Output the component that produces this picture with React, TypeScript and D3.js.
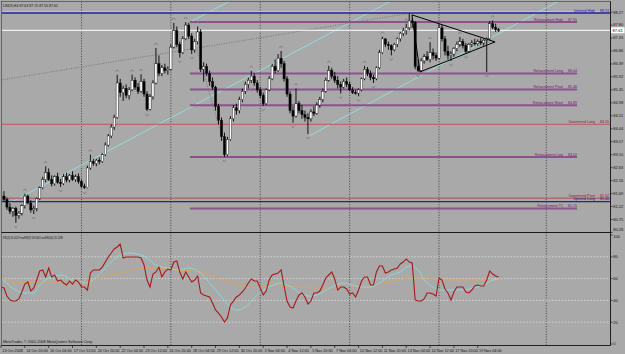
import React, { useEffect, useRef } from "react";
import * as d3 from "d3";

// header / footer texts
const chartTitle = "USDX,H4  87.63 87.70 87.55 87.61";
const rsiTitle = "RSI(9) 61.0529   maRSI(9) 58.5602   maRSI(40) 55.1189";
const copyright = "MetaTrader, \u00a9 2001-2008 MetaQuotes Software Corp.";

// H4 bars, 13 Oct 2008 12:00 onwards
const opens = [
  81.45, 81.60, 81.48, 81.20, 81.05, 81.15, 80.90, 80.98, 81.25, 81.60,
  81.35, 81.10, 81.15, 81.50, 81.90, 82.20, 82.45, 82.20, 82.05, 82.30,
  82.10, 82.05, 82.30, 82.18, 82.35, 82.20, 82.30, 82.12, 81.95, 81.90,
  82.62, 82.85, 82.78, 82.90, 82.85, 83.10, 83.45, 83.78, 84.10, 84.45,
  85.70, 85.35, 85.50, 85.25, 85.45, 85.80, 85.55, 85.40, 85.75, 85.30,
  84.75, 85.20, 85.70, 86.40, 86.05, 86.25, 86.15, 86.20, 87.00, 87.60,
  87.10, 86.80, 87.30, 87.80, 87.40, 86.90, 87.20, 87.55, 86.20, 86.30,
  86.05, 85.75, 85.55, 84.85, 84.35, 83.75, 83.10, 83.65, 84.40, 84.80,
  84.70, 85.10, 85.40, 85.65, 85.80, 85.95, 85.70, 85.45, 85.25, 84.95,
  85.45, 85.85, 86.30, 86.15, 86.60, 86.40, 85.85, 85.30, 84.70, 84.50,
  84.95, 84.70, 84.55, 84.45, 84.40, 84.65, 84.60, 84.90, 85.10, 85.40,
  85.80, 86.15, 85.95, 85.80, 85.65, 85.55, 85.75, 85.65, 85.45, 85.35,
  85.33, 85.45, 85.85, 86.20, 86.05, 85.90, 85.85, 86.25, 86.80, 87.30,
  87.10, 87.05, 86.90, 87.10, 87.30, 87.50, 87.60, 87.70, 87.95, 87.90,
  86.30, 86.15, 86.50, 86.65, 86.55, 86.80, 86.70, 86.60, 87.70, 87.30,
  86.85, 86.70, 86.75, 86.95, 87.10, 87.20, 87.05, 86.85, 87.10, 87.15,
  87.12, 87.20, 87.15, 87.25, 87.30, 87.85, 87.72, 87.63,
];
const highs = [
  81.78, 81.78, 81.55, 81.35, 81.20, 81.22, 81.05, 81.30, 81.68, 81.66,
  81.45, 81.25, 81.55, 81.95, 82.30, 82.68, 82.60, 82.35, 82.35, 82.45,
  82.22, 82.40, 82.45, 82.40, 82.50, 82.38, 82.42, 82.20, 82.05, 82.70,
  83.10, 82.95, 82.95, 83.00, 83.15, 83.55, 83.85, 84.20, 84.55, 86.00,
  85.85, 85.60, 85.65, 85.55, 86.00, 85.90, 85.70, 86.02, 85.85, 85.40,
  85.30, 85.80, 86.97, 86.70, 86.35, 86.40, 86.30, 87.10, 87.88, 87.75,
  87.20, 87.40, 87.91, 87.88, 87.50, 87.30, 87.75, 87.65, 86.45, 86.40,
  86.15, 85.90, 85.60, 84.95, 84.45, 83.90, 83.75, 84.50, 84.90, 84.95,
  85.20, 85.50, 85.75, 85.90, 86.14, 86.05, 85.80, 85.55, 85.35, 85.50,
  85.95, 86.40, 86.55, 86.75, 86.86, 86.50, 85.95, 85.40, 84.85, 85.50,
  85.05, 84.90, 84.70, 84.60, 84.75, 84.85, 85.00, 85.20, 85.50, 85.90,
  86.32, 86.25, 86.10, 85.95, 85.75, 85.85, 85.90, 85.75, 85.55, 85.45,
  85.50, 85.90, 86.32, 86.28, 86.15, 86.00, 86.30, 86.90, 87.38, 87.32,
  87.20, 87.10, 87.15, 87.35, 87.55, 87.70, 87.85, 88.22, 88.05, 87.95,
  86.55, 86.60, 86.75, 86.85, 87.18, 86.95, 86.80, 87.85, 87.80, 87.40,
  87.05, 86.85, 87.00, 87.20, 87.37, 87.30, 87.15, 87.15, 87.25, 87.30,
  87.28, 87.32, 87.30, 87.35, 87.95, 87.97, 87.85, 87.70,
];
const lows = [
  81.35, 81.40, 81.10, 80.95, 80.85, 80.63, 80.78, 80.90, 81.15, 81.30,
  81.00, 80.95, 81.05, 81.45, 81.85, 82.10, 82.15, 81.95, 81.98, 82.05,
  81.93, 82.00, 82.10, 82.10, 82.15, 82.12, 82.05, 81.90, 81.86, 81.88,
  82.55, 82.70, 82.68, 82.75, 82.80, 83.05, 83.40, 83.70, 84.00, 84.40,
  85.20, 85.05, 85.15, 85.10, 85.40, 85.45, 85.30, 85.35, 85.20, 84.68,
  84.70, 85.10, 85.65, 85.95, 85.95, 86.05, 86.00, 86.15, 86.95, 87.00,
  86.62, 86.75, 87.25, 87.30, 86.75, 86.80, 87.10, 86.10, 85.75, 85.95,
  85.60, 85.45, 84.70, 84.20, 83.60, 83.02, 83.05, 83.60, 84.30, 84.55,
  84.60, 85.00, 85.30, 85.50, 85.70, 85.60, 85.35, 85.15, 84.87, 84.90,
  85.40, 85.80, 86.05, 86.10, 86.25, 85.75, 85.20, 84.60, 84.26, 84.45,
  84.60, 84.40, 84.30, 83.85, 84.30, 84.50, 84.55, 84.80, 85.00, 85.35,
  85.75, 85.85, 85.70, 85.50, 85.32, 85.50, 85.55, 85.40, 85.30, 85.28,
  85.22, 85.40, 85.80, 85.95, 85.80, 85.70, 85.80, 86.20, 86.75, 87.00,
  86.90, 86.70, 86.85, 87.00, 87.20, 87.40, 87.45, 87.60, 87.70, 86.20,
  86.10, 86.10, 86.40, 86.50, 86.45, 86.55, 86.50, 86.55, 87.20, 86.70,
  86.55, 86.50, 86.65, 86.85, 87.00, 86.95, 86.78, 86.80, 87.00, 87.05,
  87.05, 87.08, 87.05, 86.10, 87.25, 87.65, 87.55, 87.55,
];
const closes = [
  81.60, 81.48, 81.20, 81.05, 81.15, 80.90, 80.98, 81.25, 81.60, 81.35,
  81.10, 81.15, 81.50, 81.90, 82.20, 82.45, 82.20, 82.05, 82.30, 82.10,
  82.05, 82.30, 82.18, 82.35, 82.20, 82.30, 82.12, 81.95, 81.90, 82.62,
  82.85, 82.78, 82.90, 82.85, 83.10, 83.45, 83.78, 84.10, 84.45, 85.70,
  85.35, 85.50, 85.25, 85.45, 85.80, 85.55, 85.40, 85.75, 85.30, 84.75,
  85.20, 85.70, 86.40, 86.05, 86.25, 86.15, 86.20, 87.00, 87.60, 87.10,
  86.80, 87.30, 87.80, 87.40, 86.90, 87.20, 87.55, 86.20, 86.30, 86.05,
  85.75, 85.55, 84.85, 84.35, 83.75, 83.10, 83.65, 84.40, 84.80, 84.70,
  85.10, 85.40, 85.65, 85.80, 85.95, 85.70, 85.45, 85.25, 84.95, 85.45,
  85.85, 86.30, 86.15, 86.60, 86.40, 85.85, 85.30, 84.70, 84.50, 84.95,
  84.70, 84.55, 84.45, 84.40, 84.65, 84.60, 84.90, 85.10, 85.40, 85.80,
  86.15, 85.95, 85.80, 85.65, 85.55, 85.75, 85.65, 85.45, 85.35, 85.33,
  85.45, 85.85, 86.20, 86.05, 85.90, 85.85, 86.25, 86.80, 87.30, 87.10,
  87.05, 86.90, 87.10, 87.30, 87.50, 87.60, 87.70, 87.95, 87.90, 86.30,
  86.15, 86.50, 86.65, 86.55, 86.80, 86.70, 86.60, 87.70, 87.30, 86.85,
  86.70, 86.75, 86.95, 87.10, 87.20, 87.05, 86.85, 87.10, 87.15, 87.12,
  87.20, 87.15, 87.25, 87.30, 87.85, 87.72, 87.63, 87.61,
];

// fractal marks (bar indexes)
const fractalUp = [0, 8, 15, 30, 39, 44, 47, 52, 58, 62, 66, 84, 94, 99, 110, 122, 128, 136, 144, 154, 165];
const fractalDown = [5, 11, 20, 28, 49, 60, 64, 75, 88, 98, 103, 114, 120, 125, 131, 140, 151, 156, 163];

// horizontal levels
const levelNames = [
  "Uptrend High", "Retracement High", "Retracement Long", "Retracement Pivot", "Retracement Short",
  "Downtrend Long", "Retracement Low", "Downtrend Pivot", "Uptrend Long", "Retracement T1",
];
const levelValues = [88.24, 87.91, 86.04, 85.46, 84.89, 84.2, 83.02, 81.52, 81.4, 81.15];

// triangle (bar, price)
const triangleBars = [137.9, 140.6, 165.8];
const trianglePrices = [88.17, 86.1, 87.19];

// trend lines: [bar1, price1, bar2, price2]
const channelLines = [
  [3.0, 81.35, 131.5, 88.71],
  [64.1, 87.95, 77.5, 88.71],
  [103.4, 83.78, 187.9, 88.71],
];
const dottedLines = [
  [0.3, 85.81, 137.9, 88.24],
  [65.8, 86.9, 76.2, 82.98],
];

// RSI(9)
const rsiValues = [
  52.3, 51.4, 44.0, 40.4, 39.4, 39.4, 41.3, 47.7, 55.0, 56.9,
  48.6, 51.4, 58.7, 67.0, 67.9, 61.5, 69.7, 61.5, 63.3, 57.8,
  58.7, 56.0, 54.1, 57.8, 55.0, 58.7, 56.9, 52.3, 52.3, 49.5,
  65.1, 67.9, 67.9, 67.9, 70.6, 75.2, 79.8, 83.5, 87.2, 89.0,
  91.7, 78.9, 79.8, 79.8, 79.8, 79.8, 79.8, 78.9, 72.5, 58.7,
  52.3, 64.2, 66.1, 70.6, 61.5, 66.1, 68.8, 67.9, 75.2, 76.1,
  66.1, 59.6, 66.1, 61.5, 56.9, 58.7, 62.4, 46.8, 45.0, 44.0,
  43.1, 37.6, 31.2, 28.4, 24.8, 20.2, 23.9, 35.8, 39.4, 43.1,
  45.0, 47.7, 51.4, 56.0, 59.6, 57.8, 57.8, 51.4, 45.0, 48.6,
  58.7, 63.3, 64.2, 65.1, 67.9, 53.2, 39.4, 33.9, 33.0, 39.4,
  45.0, 46.8, 43.1, 36.7, 39.4, 46.8, 46.8, 48.6, 54.1, 60.6,
  63.3, 66.1, 59.6, 49.5, 52.3, 52.3, 50.5, 45.9, 46.8, 43.1,
  49.5, 57.8, 61.5, 61.5, 54.1, 54.1, 66.1, 71.6, 71.6, 65.1,
  66.1, 67.9, 68.8, 69.7, 73.4, 75.2, 78.0, 75.2, 74.3, 40.4,
  39.4, 39.4, 41.3, 46.8, 46.8, 45.9, 44.0, 60.6, 58.7, 50.5,
  46.8, 40.4, 47.7, 52.3, 52.3, 52.3, 47.7, 46.8, 49.5, 53.2,
  54.1, 53.2, 53.2, 58.7, 67.0, 64.2, 62.4, 61.5,
];
// moving averages of RSI, read at sample bars
const ma9Bars = [0, 8, 11, 13, 16, 20, 24, 27, 29, 32, 36, 39, 43, 47, 49, 52, 56, 59, 63, 67, 70, 74, 77, 79, 82, 85, 88, 90, 94, 96, 99, 101, 104, 106, 108, 111, 115, 118, 121, 124, 127, 131, 134, 137, 140, 142, 145, 147, 152, 155, 158, 162, 165, 167];
const ma9Values = [60.6, 46.8, 46.8, 54.1, 60.6, 63.3, 58.7, 56.9, 56.0, 61.5, 72.5, 79.8, 83.5, 81.7, 78.9, 72.5, 69.7, 67.9, 69.7, 65.1, 56.0, 43.1, 33.9, 31.2, 33.9, 42.2, 49.5, 52.3, 56.0, 54.1, 49.5, 45.0, 44.0, 45.0, 47.7, 52.3, 56.0, 54.1, 52.3, 52.3, 56.0, 63.3, 66.1, 71.6, 67.9, 58.7, 52.3, 49.5, 49.5, 49.5, 51.4, 54.1, 58.7, 59.5];
const ma40Bars = [0, 6, 13, 22, 31, 37, 42, 48, 53, 59, 67, 72, 78, 83, 87, 93, 99, 106, 111, 117, 123, 128, 134, 137, 143, 148, 154, 160, 167];
const ma40Values = [60.6, 56.0, 56.9, 56.9, 58.7, 63.3, 66.1, 69.7, 69.7, 67.9, 66.1, 60.6, 56.0, 52.3, 52.3, 54.1, 52.3, 51.4, 51.4, 54.1, 52.3, 56.0, 58.7, 60.6, 60.6, 58.7, 58.7, 58.7, 58.7];

// axes
const priceTicks = [88.27, 87.8, 87.33, 86.86, 86.39, 85.92, 85.45, 84.98, 84.51, 84.04, 83.57, 83.1, 82.63, 82.16, 81.69, 81.22, 80.75, 80.28];
const rsiTicks = [100, 80, 60, 40, 20, 0];
const rsiLevels = [80, 60, 40, 20];
const separatorBars = [27, 57, 87, 117, 147, 183];
const timeLabels = [
  "13 Oct 2008", "14 Oct 20:00", "16 Oct 04:00", "17 Oct 12:00", "20 Oct 20:00", "22 Oct 04:00",
  "23 Oct 12:00", "24 Oct 20:00", "28 Oct 04:00", "29 Oct 12:00", "30 Oct 20:00", "3 Nov 04:00",
  "4 Nov 12:00", "5 Nov 20:00", "7 Nov 04:00", "10 Nov 12:00", "11 Nov 20:00", "13 Nov 04:00",
  "14 Nov 12:00", "17 Nov 20:00", "19 Nov 04:00",
];

export default function App() {
  const ref = useRef<SVGSVGElement | null>(null);

  useEffect(() => {
    const svg = d3.select(ref.current);
    svg.selectAll("*").remove();

    const left = 1.5, right = 610.5, top = 1.5, sep = 232.5, bottom = 345.5;
    const font = "'Liberation Sans', Arial, sans-serif";

    const x = d3.scaleLinear().domain([0, 183]).range([1, 546.3]);
    const y = d3.scaleLinear().domain([80.37, 88.6]).range([230, 3]);
    const yr = d3.scaleLinear().domain([0, 100]).range([344, 235]);
    const bars = d3.range(closes.length);

    svg.append("rect").attr("width", 625).attr("height", 354).attr("fill", "#a9a9a9");

    const defs = svg.append("defs");
    defs.append("clipPath").attr("id", "mainClip").append("rect")
      .attr("x", left).attr("y", top).attr("width", right - left).attr("height", sep - top);
    defs.append("clipPath").attr("id", "rsiClip").append("rect")
      .attr("x", left).attr("y", sep).attr("width", right - left).attr("height", bottom - sep);

    const main = svg.append("g").attr("clip-path", "url(#mainClip)");
    const rsi = svg.append("g").attr("clip-path", "url(#rsiClip)");

    // week separators
    main.selectAll(".sep").data(separatorBars).enter().append("line")
      .attr("x1", (d) => x(d)).attr("x2", (d) => x(d)).attr("y1", top).attr("y2", sep)
      .attr("stroke", "#2a2a2a").attr("stroke-width", 0.8).attr("stroke-dasharray", "1,1.6");
    rsi.selectAll(".sep").data(separatorBars).enter().append("line")
      .attr("x1", (d) => x(d)).attr("x2", (d) => x(d)).attr("y1", sep).attr("y2", bottom)
      .attr("stroke", "#2a2a2a").attr("stroke-width", 0.8).attr("stroke-dasharray", "1,1.6");

    // trend lines
    main.selectAll(".chan").data(channelLines).enter().append("line")
      .attr("x1", (d) => x(d[0])).attr("y1", (d) => y(d[1]))
      .attr("x2", (d) => x(d[2])).attr("y2", (d) => y(d[3]))
      .attr("stroke", "#8fe3e3").attr("stroke-width", 0.9);
    main.selectAll(".dots").data(dottedLines).enter().append("line")
      .attr("x1", (d) => x(d[0])).attr("y1", (d) => y(d[1]))
      .attr("x2", (d) => x(d[2])).attr("y2", (d) => y(d[3]))
      .attr("stroke", "#6a6a6a").attr("stroke-width", 0.8).attr("stroke-dasharray", "1,1.5");

    // levels
    const styleOf = (name: string) =>
      name.startsWith("Uptrend")
        ? { line: "#23239c", text: "#1414b0", width: 1.4, full: true }
        : name.startsWith("Downtrend")
        ? { line: "#b66a6a", text: "#8a2626", width: 1.4, full: true }
        : { line: "#8a548a", text: "#741474", width: 2, full: false };

    main.append("line")
      .attr("x1", left).attr("x2", right)
      .attr("y1", y(levelValues[0]) - 1.4).attr("y2", y(levelValues[0]) - 1.4)
      .attr("stroke", "#cfcf9c").attr("stroke-width", 0.8);

    levelNames.forEach((name, k) => {
      const st = styleOf(name);
      const ly = y(levelValues[k]);
      const x0 = st.full ? left : x(63.4);
      const x1 = st.full ? right : 577;
      main.append("line").attr("x1", x0).attr("x2", x1).attr("y1", ly).attr("y2", ly)
        .attr("stroke", st.line).attr("stroke-width", st.width);
    });

    // current price line
    const last = closes[closes.length - 1];
    main.append("line").attr("x1", left).attr("x2", right).attr("y1", y(last)).attr("y2", y(last))
      .attr("stroke", "#ffffff").attr("stroke-width", 1);

    // candles
    main.selectAll(".wick").data(bars).enter().append("line")
      .attr("x1", (i) => x(i)).attr("x2", (i) => x(i))
      .attr("y1", (i) => y(highs[i])).attr("y2", (i) => y(lows[i]))
      .attr("stroke", "#000").attr("stroke-width", 0.9);
    main.selectAll(".body").data(bars).enter().append("rect")
      .attr("x", (i) => x(i) - 1.1).attr("width", 2.2)
      .attr("y", (i) => y(Math.max(opens[i], closes[i])))
      .attr("height", (i) => Math.max(0.8, Math.abs(y(opens[i]) - y(closes[i]))))
      .attr("fill", (i) => (closes[i] >= opens[i] ? "#ffffff" : "#000000"))
      .attr("stroke", "#000").attr("stroke-width", 0.4);

    // fractals
    main.selectAll(".fu").data(fractalUp).enter().append("path")
      .attr("d", (i) => `M${x(i) - 1.7},${y(highs[i]) - 3} L${x(i)},${y(highs[i]) - 5} L${x(i) + 1.7},${y(highs[i]) - 3}`)
      .attr("fill", "none").attr("stroke", "#767676").attr("stroke-width", 0.8);
    main.selectAll(".fd").data(fractalDown).enter().append("path")
      .attr("d", (i) => `M${x(i) - 1.7},${y(lows[i]) + 3} L${x(i)},${y(lows[i]) + 5} L${x(i) + 1.7},${y(lows[i]) + 3}`)
      .attr("fill", "none").attr("stroke", "#767676").attr("stroke-width", 0.8);

    // triangle
    const tri = triangleBars.map((b, k) => [x(b), y(trianglePrices[k])] as [number, number]);
    main.append("path").attr("d", d3.line()(tri) + "Z")
      .attr("fill", "none").attr("stroke", "#000").attr("stroke-width", 1);

    // level labels
    levelNames.forEach((name, k) => {
      const st = styleOf(name);
      const ly = y(levelValues[k]) - 1.2;
      const end = st.full ? 609 : 577;
      svg.append("text").attr("x", end - 14).attr("y", ly).attr("text-anchor", "end")
        .attr("font-family", font).attr("font-size", 3.6).attr("fill", st.text).text(name);
      svg.append("text").attr("x", end).attr("y", ly).attr("text-anchor", "end")
        .attr("font-family", font).attr("font-size", 3.6).attr("fill", st.text).text(levelValues[k].toFixed(2));
    });

    // RSI panel
    rsi.selectAll(".lvl").data(rsiLevels).enter().append("line")
      .attr("x1", left).attr("x2", right).attr("y1", (d) => yr(d)).attr("y2", (d) => yr(d))
      .attr("stroke", "#dcdcdc").attr("stroke-width", 0.8).attr("stroke-dasharray", "1.6,1.6");

    const maLine = d3.line<number>().curve(d3.curveMonotoneX);
    rsi.append("path")
      .attr("d", maLine.x((d) => x(ma40Bars[d])).y((d) => yr(ma40Values[d]))(d3.range(ma40Bars.length)))
      .attr("fill", "none").attr("stroke", "#e0a458").attr("stroke-width", 0.9);
    rsi.append("path")
      .attr("d", maLine.x((d) => x(ma9Bars[d])).y((d) => yr(ma9Values[d]))(d3.range(ma9Bars.length)))
      .attr("fill", "none").attr("stroke", "#86dede").attr("stroke-width", 0.9);
    rsi.append("path")
      .attr("d", d3.line<number>().x((i) => x(i)).y((i) => yr(rsiValues[i]))(bars))
      .attr("fill", "none").attr("stroke", "#a81818").attr("stroke-width", 1.1);

    // frame
    svg.append("rect").attr("x", left).attr("y", top).attr("width", right - left).attr("height", bottom - top)
      .attr("fill", "none").attr("stroke", "#555").attr("stroke-width", 0.8);
    svg.append("line").attr("x1", left).attr("x2", right).attr("y1", sep).attr("y2", sep)
      .attr("stroke", "#1a1a1a").attr("stroke-width", 1.2);
    svg.append("line").attr("x1", right).attr("x2", right).attr("y1", top).attr("y2", bottom)
      .attr("stroke", "#1a1a1a").attr("stroke-width", 0.9);
    svg.append("line").attr("x1", left).attr("x2", right).attr("y1", bottom).attr("y2", bottom)
      .attr("stroke", "#1a1a1a").attr("stroke-width", 0.9);

    // price axis
    priceTicks.forEach((t) => {
      svg.append("line").attr("x1", right).attr("x2", right + 2).attr("y1", y(t)).attr("y2", y(t))
        .attr("stroke", "#1a1a1a").attr("stroke-width", 0.7);
      svg.append("text").attr("x", 613.3).attr("y", Math.min(y(t) + 1.4, 231))
        .attr("font-family", font).attr("font-size", 4).attr("fill", "#111").text(t.toFixed(2));
    });
    svg.append("rect").attr("x", right + 0.5).attr("y", y(last) - 3).attr("width", 13.5).attr("height", 6)
      .attr("fill", "#ffffff");
    svg.append("text").attr("x", 612.6).attr("y", y(last) + 1.5)
      .attr("font-family", font).attr("font-size", 4).attr("fill", "#000").text(last.toFixed(2));

    // rsi axis
    rsiTicks.forEach((t) => {
      svg.append("line").attr("x1", right).attr("x2", right + 2).attr("y1", yr(t)).attr("y2", yr(t))
        .attr("stroke", "#1a1a1a").attr("stroke-width", 0.7);
      svg.append("text").attr("x", 613.3).attr("y", Math.max(yr(t) + 1.4, 238.4))
        .attr("font-family", font).attr("font-size", 4).attr("fill", "#111").text(String(t));
    });

    // time axis
    timeLabels.forEach((lab, k) => {
      const tx = x(k * 8);
      svg.append("line").attr("x1", tx).attr("x2", tx).attr("y1", bottom).attr("y2", bottom + 2.5)
        .attr("stroke", "#1a1a1a").attr("stroke-width", 0.7);
      svg.append("text").attr("x", tx + 1.3).attr("y", 352.3)
        .attr("font-family", font).attr("font-size", 3.8).attr("fill", "#111").text(lab);
    });

    // texts
    svg.append("text").attr("x", 3).attr("y", 7).attr("font-family", font).attr("font-size", 4)
      .attr("fill", "#111").attr("textLength", 55).attr("lengthAdjust", "spacingAndGlyphs").text(chartTitle);
    svg.append("text").attr("x", 3).attr("y", 238.6).attr("font-family", font).attr("font-size", 3.8)
      .attr("fill", "#111").attr("textLength", 60).attr("lengthAdjust", "spacingAndGlyphs").text(rsiTitle);
    svg.append("text").attr("x", 3).attr("y", 343).attr("font-family", font).attr("font-size", 3.8)
      .attr("fill", "#111").attr("textLength", 90).attr("lengthAdjust", "spacingAndGlyphs").text(copyright);
  }, []);

  return (
    <svg
      ref={ref}
      width={625}
      height={354}
      style={{ position: "absolute", left: 0, top: 0, display: "block" }}
    />
  );
}
